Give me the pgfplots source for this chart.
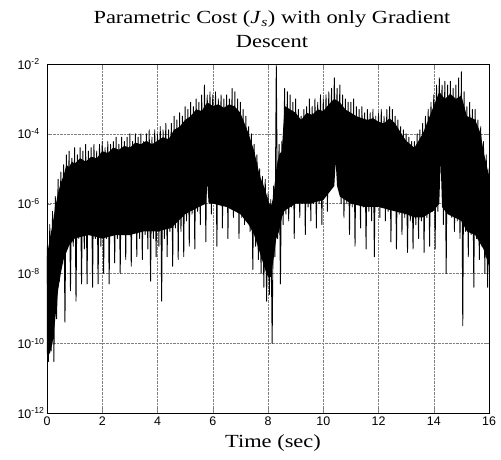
\documentclass[border=0pt]{standalone}
\usepackage{pgfplots}
\pgfplotsset{compat=1.18}
\usepackage{graphicx}
\usepackage{fontspec}
\setmainfont{Liberation Serif}
\setsansfont{Liberation Sans}
\newcommand{\yl}[1]{10\textsuperscript{#1}}
\newcommand{\wide}[1]{\scalebox{1.21}[1]{#1}}
\begin{document}
\begin{tikzpicture}
\path[use as bounding box] (0bp,0bp) rectangle (501bp,-460bp);
\begin{axis}[
  at={(47bp,-64bp)}, anchor=north west,
  width=442bp, height=349bp, scale only axis,
  xmin=0, xmax=16, ymin=1e-12, ymax=1e-2, ymode=log,
  xtick={0,2,4,6,8,10,12,14,16},
  xticklabels={0,2,4,6,8,10,12,14,16},
  ytick={1e-12,1e-10,1e-8,1e-6,1e-4,1e-2},
  yticklabels={\yl{-12},\yl{-10},\yl{-8},\yl{-6},\yl{-4},\yl{-2}},
  tick label style={font=\sffamily\fontsize{12.5}{13}\selectfont},
  yticklabel style={anchor=west, xshift=-33bp},
  grid=major, grid style={densely dotted, gray, line width=0.5pt},
  tick align=inside, major tick length=4bp,
  axis line style={line width=0.8pt},
  title={\wide{Parametric Cost (\textit{J}\textsubscript{\textit{s}}) with only Gradient}\\\wide{Descent}},
  title style={font=\fontsize{18.6}{24}\selectfont, align=center,
    at={(axis description cs:0.5,1)}, anchor=south, yshift=7bp, xshift=4bp},
  xlabel={\wide{Time (sec)}},
  xlabel style={font=\fontsize{18.6}{22}\selectfont,
    at={(axis description cs:0.5,0)}, anchor=base, yshift=-34bp, xshift=5bp},
]
% solid body of the signal
\addplot[fill=black, draw=none] table {
0.00 3.2e-8
0.10 1e-7
0.20 2.5e-7
0.30 8e-7
0.40 2e-6
0.50 4e-6
0.60 6.3e-6
0.70 1.3e-5
0.80 1.1e-5
0.90 1.6e-5
1.00 1.4e-5
1.20 2e-5
1.40 1.6e-5
1.60 2.2e-5
1.80 2e-5
2.00 3.2e-5
2.20 2.8e-5
2.40 4e-5
2.60 3.5e-5
2.80 4.5e-5
3.00 4e-5
3.20 5.6e-5
3.40 5e-5
3.60 6.3e-5
3.80 5e-5
4.00 6.3e-5
4.20 8e-5
4.40 7e-5
4.60 1.3e-4
4.80 1.6e-4
5.00 2.5e-4
5.20 3.2e-4
5.40 5e-4
5.60 4.5e-4
5.80 8e-4
6.00 6.3e-4
6.20 7e-4
6.40 5.6e-4
6.60 7e-4
6.80 6e-4
7.00 4e-4
7.30 1e-4
7.50 3.2e-5
7.70 6.3e-6
7.90 2.5e-6
8.00 1.26e-6
8.10 8e-7
8.20 1.6e-6
8.30 1e-5
8.40 2.5e-5
8.50 3.2e-5
8.60 6.3e-4
8.80 5e-4
9.00 4e-4
9.20 2.5e-4
9.40 4e-4
9.60 3.5e-4
9.80 5e-4
10.00 4.5e-4
10.20 7e-4
10.40 1e-3
10.60 8e-4
10.80 5e-4
11.00 4e-4
11.20 3.2e-4
11.40 2.8e-4
11.60 2.5e-4
11.80 2.8e-4
12.00 2.2e-4
12.20 2e-4
12.40 2.8e-4
12.60 2e-4
12.80 1.1e-4
13.00 6.3e-5
13.30 4e-5
13.60 1e-4
13.80 2.5e-4
14.00 6.3e-4
14.20 1.6e-3
14.40 1e-3
14.60 1.4e-3
14.80 1e-3
15.00 1.26e-3
15.10 6.3e-4
15.20 3.2e-4
15.40 2.8e-4
15.50 2.5e-4
15.70 1e-4
15.80 3.2e-5
16.00 6.3e-6
16.00 1.6e-8
15.80 5e-8
15.50 1.26e-7
15.20 1.6e-7
15.00 3.2e-7
14.50 5e-7
14.30 8e-7
14.25 1.6e-5
14.20 1e-6
14.00 6.3e-7
13.60 4e-7
13.30 4e-7
13.00 5e-7
12.50 6.3e-7
12.00 8e-7
11.50 8e-7
11.00 1e-6
10.60 1.6e-6
10.50 3.2e-6
10.45 1.6e-5
10.40 3.2e-6
10.00 1.26e-6
9.50 1e-6
9.00 1e-6
8.60 6.3e-7
8.50 4e-7
8.40 1.6e-7
8.30 1e-7
8.20 2.5e-8
8.10 8e-9
8.00 8e-9
7.90 1.26e-8
7.70 4e-8
7.50 1.26e-7
7.30 2.5e-7
7.00 5e-7
6.50 8e-7
6.00 1e-6
5.85 1e-6
5.80 4e-6
5.75 1e-6
5.50 8e-7
5.00 5e-7
4.50 2e-7
4.00 1.6e-7
3.50 1.6e-7
3.00 1.26e-7
2.50 1.26e-7
2.00 1e-7
1.50 1.26e-7
1.00 1e-7
0.80 6.3e-8
0.60 2.5e-8
0.50 1e-8
0.40 3.2e-9
0.30 5e-10
0.20 1e-10
0.10 5e-11
0.00 5e-11
} -- cycle;
% oscillating trace with its peaks and dips
\addplot[black, line width=0.9bp, line join=round] table {
0.00 6e-8
0.05 3e-11
0.10 2.5e-7
0.15 6e-11
0.20 6e-7
0.25 3e-11
0.30 1.6e-6
0.35 5e-10
0.40 5e-6
0.45 6e-9
0.50 8e-6
0.55 3e-8
0.60 1.3e-5
0.65 4e-10
0.70 2.5e-5
0.75 1e-7
0.80 3.2e-5
0.85 3.2e-9
0.90 2e-5
0.95 6e-8
1.00 4e-5
1.05 1.6e-9
1.10 2.5e-5
1.15 1e-7
1.20 4e-5
1.25 5e-9
1.30 3.2e-5
1.35 5e-8
1.40 5e-5
1.45 5e-9
1.50 3.2e-5
1.55 1.6e-7
1.60 4e-5
1.65 4e-9
1.70 5e-5
1.75 1e-7
1.80 3.2e-5
1.85 5e-9
1.90 5e-5
1.95 6e-8
2.00 6e-5
2.05 1e-8
2.10 4e-5
2.15 1e-7
2.20 6e-5
2.25 5e-9
2.30 5e-5
2.35 1.3e-7
2.40 6e-5
2.45 2e-8
2.50 8e-5
2.55 1e-7
2.60 5e-5
2.65 1e-8
2.70 8e-5
2.75 1.6e-7
2.80 6e-5
2.85 2.5e-8
2.90 8e-5
2.95 1.3e-7
3.00 1e-4
3.05 1.6e-8
3.10 6e-5
3.15 1.6e-7
3.20 1e-4
3.25 3e-8
3.30 8e-5
3.35 1e-7
3.40 1e-4
3.45 2.5e-8
3.50 6e-5
3.55 1.3e-7
3.60 1e-4
3.65 5e-8
3.70 1.3e-4
3.75 6e-9
3.80 8e-5
3.85 1e-7
3.90 1.3e-4
3.95 3e-8
4.00 1e-4
4.05 6e-8
4.10 1.6e-4
4.15 1.6e-9
4.20 1.3e-4
4.25 1e-7
4.30 2e-4
4.35 3e-8
4.40 1.3e-4
4.45 1.6e-7
4.50 2e-4
4.55 1.6e-8
4.60 3.2e-4
4.65 2e-7
4.70 2.5e-4
4.75 2.5e-8
4.80 4e-4
4.85 1.6e-7
4.90 3.2e-4
4.95 3e-8
5.00 6e-4
5.05 3.2e-7
5.10 5e-4
5.15 6e-8
5.20 8e-4
5.25 5e-7
5.30 6e-4
5.35 5e-8
5.40 1e-3
5.45 6e-7
5.50 8e-4
5.55 2.5e-7
5.60 1.3e-3
5.65 1e-6
5.70 2.5e-3
5.75 8e-8
5.80 1.3e-3
5.85 1.6e-6
5.90 1.6e-3
5.95 5e-7
6.00 1.3e-3
6.05 1.3e-6
6.10 1.6e-3
6.15 6e-8
6.20 1e-3
6.25 1.3e-6
6.30 1.3e-3
6.35 2e-7
6.40 1e-3
6.45 1e-6
6.50 1.3e-3
6.55 1e-7
6.60 1e-3
6.65 1.3e-6
6.70 2e-3
6.75 4e-7
6.80 1.6e-3
6.85 6e-7
6.90 1e-3
6.95 1e-7
7.00 8e-4
7.05 4e-7
7.10 5e-4
7.15 2.5e-7
7.20 3.2e-4
7.25 3.2e-7
7.30 1.6e-4
7.35 1.6e-7
7.40 1e-4
7.45 1.3e-8
7.50 5e-5
7.55 6e-8
7.60 2.5e-5
7.65 2.5e-8
7.70 1e-5
7.75 1e-8
7.80 6e-6
7.85 4e-9
7.90 5e-6
7.95 1.6e-9
8.00 2e-6
8.05 2.5e-9
8.10 1.3e-6
8.15 1e-10
8.20 3.2e-6
8.25 3e-8
8.30 9e-3
8.35 1e-7
8.40 5e-5
8.45 5e-9
8.50 6e-5
8.55 2.5e-7
8.60 2e-3
8.65 5e-7
8.70 1.6e-3
8.75 3.2e-7
8.80 1.3e-3
8.85 8e-7
8.90 8e-4
8.95 1e-7
9.00 1e-3
9.05 1e-6
9.10 5e-4
9.15 4e-7
9.20 3.2e-4
9.25 1e-6
9.30 5e-4
9.35 1.3e-7
9.40 6e-4
9.45 8e-7
9.50 1e-3
9.55 3.2e-7
9.60 6e-4
9.65 1e-6
9.70 1e-3
9.75 2e-7
9.80 8e-4
9.85 1e-6
9.90 1.3e-3
9.95 2.5e-7
10.00 1e-3
10.05 2.5e-6
10.10 1.3e-3
10.15 6e-7
10.20 1.6e-3
10.25 3.2e-6
10.30 2e-3
10.35 6e-6
10.40 4e-3
10.45 1.6e-5
10.50 2e-3
10.55 3.2e-6
10.60 2.5e-3
10.65 1e-6
10.70 1.3e-3
10.75 4e-7
10.80 1e-3
10.85 1e-6
10.90 8e-4
10.95 1.3e-7
11.00 8e-4
11.05 8e-7
11.10 1e-3
11.15 6e-8
11.20 6e-4
11.25 1e-6
11.30 5e-4
11.35 2e-7
11.40 6e-4
11.45 8e-7
11.50 4e-4
11.55 5e-8
11.60 5e-4
11.65 6e-7
11.70 4e-4
11.75 3.2e-7
11.80 5e-4
11.85 3e-8
11.90 3.2e-4
11.95 8e-7
12.00 4e-4
12.05 4e-7
12.10 5e-4
12.15 1e-6
12.20 3.2e-4
12.25 3.2e-7
12.30 5e-4
12.35 6e-7
12.40 6e-4
12.45 8e-8
12.50 5e-4
12.55 8e-7
12.60 3.2e-4
12.65 5e-8
12.70 2.5e-4
12.75 5e-7
12.80 1.6e-4
12.85 1.3e-7
12.90 1.3e-4
12.95 4e-7
13.00 1e-4
13.05 4e-8
13.10 8e-5
13.15 3.2e-7
13.20 6e-5
13.25 5e-8
13.30 6e-5
13.35 2.5e-7
13.40 1e-4
13.45 1e-7
13.50 1.3e-4
13.55 3.2e-7
13.60 2e-4
13.65 4e-8
13.70 3.2e-4
13.75 4e-7
13.80 5e-4
13.85 6e-8
13.90 8e-4
13.95 6e-7
14.00 1.3e-3
14.05 5e-8
14.10 2.5e-3
14.15 6e-7
14.20 4e-3
14.25 2e-5
14.30 2.5e-3
14.35 2.5e-7
14.40 3.2e-3
14.45 1e-8
14.50 2.5e-3
14.55 6e-7
14.60 3.2e-3
14.65 4e-7
14.70 2e-3
14.75 1.6e-7
14.80 2.5e-3
14.85 3.2e-7
14.90 4e-3
14.95 1e-7
15.00 6e-3
15.05 3.2e-10
15.10 1.6e-3
15.15 1.6e-7
15.20 6e-4
15.25 3e-8
15.30 8e-4
15.35 1.3e-7
15.40 5e-4
15.45 4e-9
15.50 5e-4
15.55 1e-7
15.60 2.5e-4
15.65 2.5e-8
15.70 1.6e-4
15.75 6e-8
15.80 6e-5
15.85 1e-8
15.90 2.5e-5
15.95 4e-9
16.00 1e-5
};
\end{axis}
\end{tikzpicture}
\end{document}
